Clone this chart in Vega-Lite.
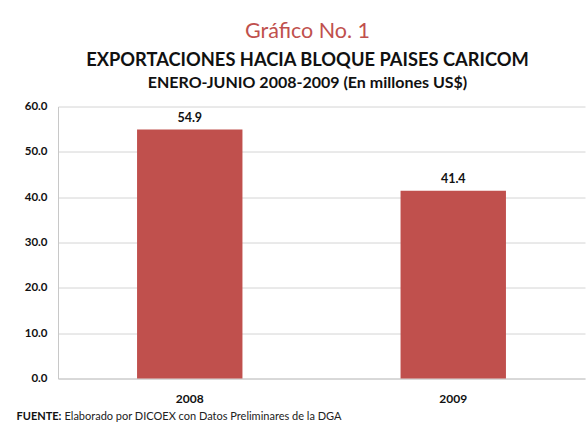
{
  "$schema": "https://vega.github.io/schema/vega-lite/v6.json",
  "padding": {"left": 16, "top": 20.5, "right": 3, "bottom": 8},
  "background": "white",
  "title": {
    "text": "Gráfico No. 1",
    "subtitle": "EXPORTACIONES HACIA BLOQUE PAISES CARICOM",
    "font": "Lato",
    "fontSize": 21.5,
    "fontWeight": "normal",
    "color": "#c0504d",
    "subtitleFont": "Lato",
    "subtitleFontSize": 18.3,
    "subtitleFontWeight": "bold",
    "subtitleColor": "#111111",
    "subtitlePadding": 9.5,
    "anchor": "middle",
    "dx": 7,
    "offset": 5.5
  },
  "vconcat": [
    {
      "title": {
        "text": "ENERO-JUNIO 2008-2009 (En millones US$)",
        "font": "Lato",
        "fontSize": 16,
        "fontWeight": "bold",
        "color": "#111111",
        "anchor": "middle",
        "dx": -14,
        "offset": 10
      },
      "width": 527,
      "height": 272,
      "data": {"values": [
        {"year": "2008", "value": 54.9},
        {"year": "2009", "value": 41.4}
      ]},
      "encoding": {
        "x": {
          "field": "year",
          "type": "nominal",
          "sort": null,
          "scale": {"paddingInner": 0.6, "paddingOuter": 0.3},
          "axis": {
            "title": "Elaborado por DICOEX con Datos Preliminares de la DGA",
            "titleFont": "Lato",
            "titleFontSize": 11,
            "titleFontWeight": "normal",
            "titleColor": "#222222",
            "titleX": 6,
            "titleY": 41,
            "titleAlign": "left",
            "titleBaseline": "alphabetic",
            "labelAngle": 0,
            "labelFont": "Lato",
            "labelFontSize": 12,
            "labelFontWeight": "bold",
            "labelColor": "#111111",
            "labelPadding": 15,
            "ticks": false,
            "domainColor": "#c8c8c8",
            "grid": false
          }
        },
        "y": {
          "field": "value",
          "type": "quantitative",
          "scale": {"domain": [0, 60], "nice": false},
          "axis": {
            "values": [0, 10, 20, 30, 40, 50, 60],
            "format": ".1f",
            "title": "FUENTE:",
            "titleFont": "Lato",
            "titleFontSize": 11,
            "titleFontWeight": "bold",
            "titleColor": "#111111",
            "titleAngle": 0,
            "titleAlign": "left",
            "titleBaseline": "alphabetic",
            "titleX": -42,
            "titleY": 312.5,
            "labelFont": "Lato",
            "labelFontSize": 11.5,
            "labelFontWeight": "bold",
            "labelColor": "#111111",
            "labelPadding": 11,
            "ticks": false,
            "domainColor": "#c8c8c8",
            "gridColor": "#d4d4d4",
            "grid": true
          }
        }
      },
      "layer": [
        {"mark": {"type": "bar", "color": "#c0504d"}},
        {
          "mark": {
            "type": "text",
            "dy": -8,
            "baseline": "alphabetic",
            "font": "Lato",
            "fontSize": 12.5,
            "fontWeight": "bold",
            "color": "#111111"
          },
          "encoding": {"text": {"field": "value", "type": "quantitative", "format": ".1f"}}
        }
      ]
    }
  ],
  "config": {"view": {"stroke": null}}
}
